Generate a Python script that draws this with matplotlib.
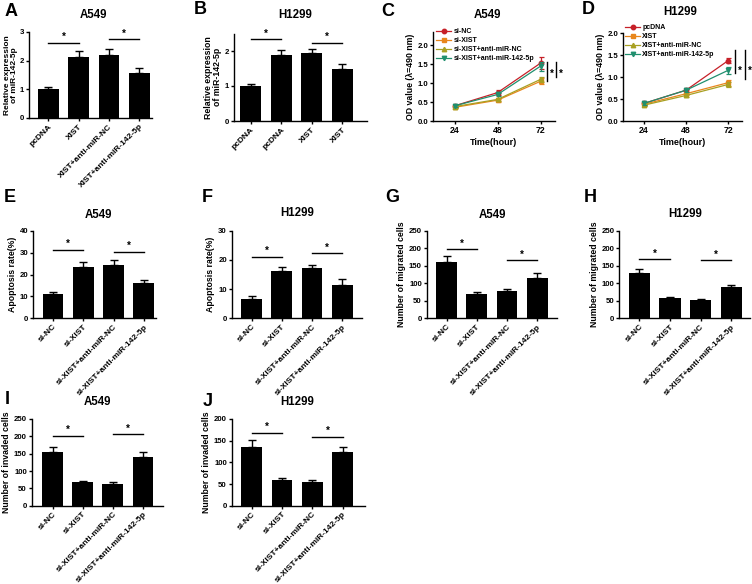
import matplotlib
matplotlib.use('Agg')
import matplotlib.pyplot as plt
import numpy as np

plt.rcParams['font.family'] = ['Liberation Sans', 'DejaVu Sans']
plt.rcParams['font.weight'] = 'bold'
plt.rcParams['axes.labelweight'] = 'bold'
plt.rcParams['axes.linewidth'] = 1.0

# ---------------- data ----------------
a_labels = ['pcDNA', 'XIST', 'XIST+anti-miR-NC', 'XIST+anti-miR-142-5p']
a_means = [1.0, 2.12, 2.2, 1.58]
a_errs = [0.09, 0.23, 0.21, 0.15]

b_labels = ['pcDNA', 'pcDNA', 'XIST', 'XIST']
b_means = [1.0, 1.9, 1.95, 1.5]
b_errs = [0.07, 0.12, 0.12, 0.12]

si_labels = ['si-NC', 'si-XIST', 'si-XIST+anti-miR-NC', 'si-XIST+anti-miR-142-5p']
e_means = [11.0, 23.5, 24.5, 16.3]
e_errs = [1.0, 2.0, 2.0, 1.0]
f_means = [6.5, 16.3, 17.2, 11.3]
f_errs = [1.0, 1.2, 1.2, 2.0]
g_means = [160, 70, 78, 115]
g_errs = [17, 6, 5, 15]
h_means = [130, 57, 51, 89]
h_errs = [11, 4, 5, 7]
i_means = [155, 67, 63, 141]
i_errs = [15, 5, 5, 13]
j_means = [136, 59, 55, 125]
j_errs = [15, 4, 5, 11]

hours = [24, 48, 72]
c_series = ['si-NC', 'si-XIST', 'si-XIST+anti-miR-NC', 'si-XIST+anti-miR-142-5p']
c_means = [[0.40, 0.75, 1.53], [0.36, 0.55, 1.05], [0.38, 0.57, 1.10], [0.40, 0.70, 1.45]]
c_errs = [[0.03, 0.07, 0.15], [0.02, 0.04, 0.08], [0.03, 0.04, 0.07], [0.03, 0.05, 0.12]]
d_series = ['pcDNA', 'XIST', 'XIST+anti-miR-NC', 'XIST+anti-miR-142-5p']
d_means = [[0.40, 0.70, 1.37], [0.38, 0.62, 0.87], [0.36, 0.58, 0.83], [0.40, 0.70, 1.15]]
d_errs = [[0.03, 0.03, 0.06], [0.03, 0.03, 0.07], [0.02, 0.03, 0.05], [0.03, 0.03, 0.08]]

line_colors = ['#C62028', '#E8861C', '#A8A022', '#208F6E']
line_markers = ['o', 's', '^', 'v']

# ---------------- figure ----------------
W, H = 752, 584
fig = plt.figure(figsize=(W / 100, H / 100), dpi=100)


def ax_px(l, t, r, b):
    return fig.add_axes([l / W, 1 - b / H, (r - l) / W, (b - t) / H])


def style(ax):
    for s in ['top', 'right']:
        ax.spines[s].set_visible(False)
    ax.tick_params(length=2.5, width=1, labelsize=5.6, pad=1)


def bar_panel(rect, labels, means, errs, ymax, yticks, ylabel, sig, xl=-0.66, xr=3.65,
              ylfs=6.3, ylpad=2):
    ax = ax_px(*rect)
    style(ax)
    x = np.arange(len(means))
    ax.errorbar(x, means, yerr=[np.zeros(len(errs)), errs], fmt='none', ecolor='black',
                elinewidth=1, capsize=3.2, capthick=1, zorder=1)
    ax.bar(x, means, width=0.69, color='black', zorder=2)
    ax.set_xlim(xl, xr)
    ax.set_ylim(0, ymax)
    ax.set_yticks(yticks)
    ax.set_xticks(x)
    ax.set_xticklabels(labels, rotation=45, ha='right', rotation_mode='anchor', fontsize=6)
    ax.set_ylabel(ylabel, fontsize=ylfs, labelpad=ylpad, linespacing=1.0)
    for i, j, y in sig:
        ax.plot([i, j], [y, y], color='black', lw=1, clip_on=False)
        ax.annotate('*', xy=((i + j) / 2, y), xytext=(0, 0.5), textcoords='offset points',
                    ha='center', va='bottom', fontsize=7)
    return ax


def line_panel(rect, series, means, errs, ymax, yticks, leg_xy, sigs, stars):
    ax = ax_px(*rect)
    style(ax)
    handles = []
    for k in range(len(series)):
        ax.errorbar(hours, means[k], yerr=errs[k], fmt='none', ecolor=line_colors[k],
                    elinewidth=0.9, capsize=1.8, capthick=0.9)
        h, = ax.plot(hours, means[k], color=line_colors[k], marker=line_markers[k],
                     markersize=3.2, lw=0.9, label=series[k])
        handles.append(h)
    ax.set_xlim(12, 80)
    ax.set_ylim(0, ymax)
    ax.set_yticks(yticks)
    ax.set_yticklabels(['%.1f' % v for v in yticks])
    ax.set_xticks(hours)
    ax.tick_params(axis='x', labelsize=6.3)
    ax.set_xlabel('Time(hour)', fontsize=6.5, labelpad=2)
    ax.set_ylabel('OD value (\u03bb=490 nm)', fontsize=6.3, labelpad=2)
    ax.legend(handles=handles, loc='upper left', bbox_to_anchor=(leg_xy[0] / W, 1 - leg_xy[1] / H),
              bbox_transform=fig.transFigure, frameon=False, fontsize=5, handlelength=2.2,
              handletextpad=0.3, labelspacing=0.3, borderpad=0, borderaxespad=0)
    for xs, y0, y1 in sigs:
        ax.plot([xs, xs], [y0, y1], color='black', lw=1, clip_on=False)
    for xs, y in stars:
        ax.text(xs, y, '*', ha='center', va='center', fontsize=7, clip_on=False)
    return ax


# Row 1
bar_panel((29, 32, 152, 118), a_labels, a_means, a_errs, 3, [0, 1, 2, 3],
          'Relative expression\nof miR-142-5p', [(0, 1, 2.62), (2, 3, 2.75)], xl=-0.64, xr=3.42,
          ylfs=6.0, ylpad=1)
bar_panel((234, 33.5, 367, 121), b_labels, b_means, b_errs, 2.5, [0, 1, 2],
          'Relative expression\nof miR-142-5p', [(0, 1, 2.34), (2, 3, 2.24)], xl=-0.54, xr=3.8)
line_panel((433, 32, 555, 121), c_series, c_means, c_errs, 2.35, [0, 0.5, 1.0, 1.5, 2.0],
           (436, 28), [(75.7, 1.05, 1.55), (80.7, 1.15, 1.55)], [(78.0, 1.25), (83.0, 1.25)])
line_panel((623, 33, 742, 121), d_series, d_means, d_errs, 2.0, [0, 0.5, 1.0, 1.5, 2.0],
           (625, 24), [(76.0, 1.1, 1.62), (81.7, 0.95, 1.62)], [(79.0, 1.15), (84.3, 1.15)])

# Row 2
bar_panel((33, 230.7, 156, 318.3), si_labels, e_means, e_errs, 40, [0, 10, 20, 30, 40],
          'Apoptosis rate(%)', [(0, 1, 31.2), (2, 3, 30.4)], xr=3.4)
bar_panel((231.7, 230.7, 361.7, 318.3), si_labels, f_means, f_errs, 30, [0, 10, 20, 30],
          'Apoptosis rate(%)', [(0, 1, 21.1), (2, 3, 22.2)])
bar_panel((426.7, 230.7, 556.7, 318.3), si_labels, g_means, g_errs, 250, [0, 50, 100, 150, 200, 250],
          'Number of migrated cells', [(0, 1, 197), (2, 3, 166)])
bar_panel((619.3, 230.7, 750, 318.3), si_labels, h_means, h_errs, 250, [0, 50, 100, 150, 200, 250],
          'Number of migrated cells', [(0, 1, 168), (2, 3, 166)], xr=3.62)

# Row 3
bar_panel((31.7, 419, 163, 505.7), si_labels, i_means, i_errs, 250, [0, 50, 100, 150, 200, 250],
          'Number of invaded cells', [(0, 1, 202), (2, 3, 206)], xl=-0.69, xr=3.66)
bar_panel((231.7, 419, 365, 505.7), si_labels, j_means, j_errs, 200, [0, 50, 100, 150, 200],
          'Number of invaded cells', [(0, 1, 168), (2, 3, 159)], xr=3.74)

# Titles
titles = [('A549', 93, 15), ('H1299', 295, 15), ('A549', 487, 15), ('H1299', 680, 12),
          ('A549', 98, 215), ('H1299', 297, 213), ('A549', 492, 215), ('H1299', 685, 214),
          ('A549', 97, 402), ('H1299', 297, 402)]
for t, x, y in titles:
    fig.text(x / W, 1 - y / H, t, ha='center', va='center', fontsize=8.3, fontweight='bold')

letters = [('A', 11, 12), ('B', 200, 10), ('C', 388, 12), ('D', 588, 10),
           ('E', 10, 198), ('F', 207, 198), ('G', 392, 198), ('H', 590, 198),
           ('I', 7, 400), ('J', 208, 402)]
for t, x, y in letters:
    fig.text(x / W, 1 - y / H, t, ha='center', va='center', fontsize=13, fontweight='bold')

fig.savefig('out.png', dpi=100)
